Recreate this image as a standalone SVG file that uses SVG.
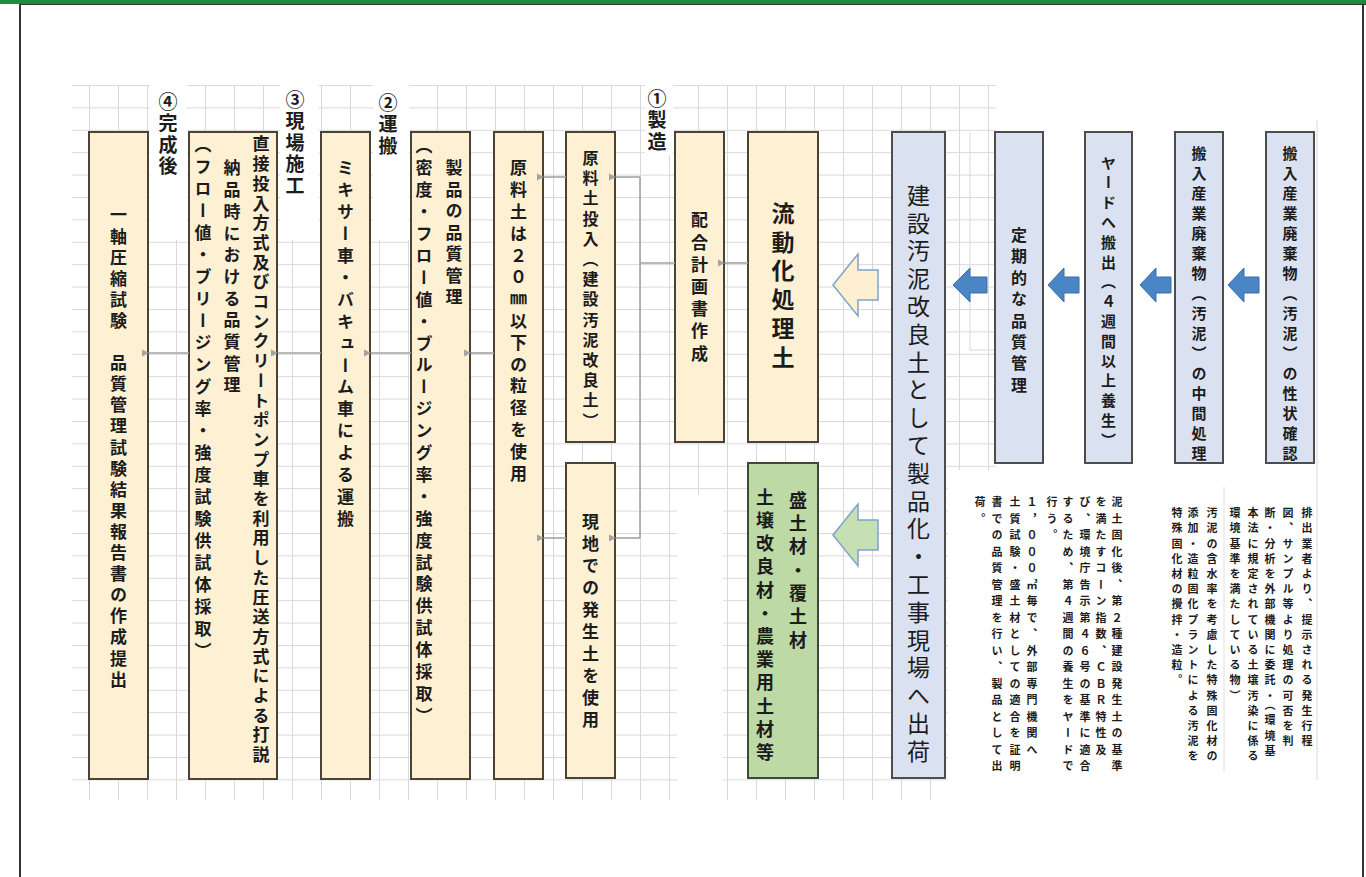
<svg xmlns="http://www.w3.org/2000/svg" width="1366" height="877" viewBox="0 0 1366 877">
<style>
.t{font-family:"Noto Sans CJK JP","Noto Sans CJK SC",sans-serif;writing-mode:vertical-rl;fill:#1c1c1c;font-weight:700;}
.n{font-weight:400;}
.cream{fill:#fdf0d3;stroke:#4a4336;stroke-width:2;}
.blue{fill:#dae2f1;stroke:#4d4d4d;stroke-width:2;}
.green{fill:#bcd9a6;stroke:#3f4a36;stroke-width:2;}
.conn{fill:none;stroke:#a3a3a3;stroke-width:1.6;}
.barrow{fill:#4a85c5;stroke:#3d6fa6;stroke-width:1;}
.s1{font-size:11px;letter-spacing:5.5px;}
.s2{font-size:11px;letter-spacing:4.2px;}
.h{font-size:19px;letter-spacing:2.5px;}
</style>
<defs>
<pattern id="grid" x="2" y="85" width="29" height="22.4" patternUnits="userSpaceOnUse">
<path d="M0.5 0V22.4M0 0.5H29" fill="none" stroke="#d9d9d9" stroke-width="1"/>
</pattern>
<marker id="ah" viewBox="0 0 8 8" refX="1" refY="4" markerWidth="8" markerHeight="8" markerUnits="userSpaceOnUse" orient="auto-start-reverse">
<path d="M8 0.5L1 4L8 7.5Z" fill="#a3a3a3"/>
</marker>
</defs>

<g id="frame">
<rect x="0" y="0" width="1366" height="877" fill="#ffffff"/>
<rect x="0" y="0" width="1366" height="4" fill="#1f8b3f"/>
<line x1="20" y1="4.5" x2="1366" y2="4.5" stroke="#333" stroke-width="1"/>
<line x1="20" y1="4" x2="20" y2="877" stroke="#333" stroke-width="2"/>
<line x1="1363" y1="4" x2="1363" y2="877" stroke="#333" stroke-width="2"/>
</g>

<g id="grid-bg">
<rect x="72" y="85" width="1246" height="715" fill="url(#grid)"/>
<rect x="150" y="85" width="37" height="155" fill="#fff"/>
<rect x="280" y="85" width="39" height="155" fill="#fff"/>
<rect x="373" y="85" width="36" height="155" fill="#fff"/>
<rect x="645" y="85" width="28" height="70" fill="#fff"/>
<rect x="677" y="495" width="46" height="305" fill="#fff"/>
<rect x="996" y="85" width="322" height="715" fill="#fff"/>
<rect x="948" y="470" width="48" height="330" fill="#fff"/>
<line x1="970" y1="132" x2="970" y2="350" stroke="#d9d9d9"/>
<line x1="970" y1="350" x2="995" y2="350" stroke="#d9d9d9"/>
<line x1="1224" y1="487" x2="1224" y2="773" stroke="#e0e0e0"/>
<line x1="1317" y1="120" x2="1317" y2="780" stroke="#d9d9d9"/>
</g>

<g id="headers">
<text class="t h" x="657" y="89">①製造</text>
<text class="t h" x="388" y="93">②運搬</text>
<text class="t h" x="295" y="90">③現場施工</text>
<text class="t h" x="168" y="92">④完成後</text>
</g>

<g id="node-report">
<rect class="cream" x="89" y="132" width="59" height="647"/>
<text class="t" x="118.5" y="206.5" font-size="17" style="letter-spacing:4.1px">一軸圧縮試験　品質管理試験結果報告書の作成提出</text>
</g>
<g id="node-placing">
<rect class="cream" x="189" y="132" width="88" height="647"/>
<text class="t" x="261" y="135.5" font-size="17" style="letter-spacing:2.7px">直接投入方式及びコンクリートポンプ車を利用した圧送方式による打説</text>
<text class="t" x="232" y="159.5" font-size="17" style="letter-spacing:4.7px">納品時における品質管理</text>
<text class="t" x="203" y="136.5" font-size="17" style="letter-spacing:5px">（フロー値・ブリージング率・強度試験供試体採取）</text>
</g>
<g id="node-transport">
<rect class="cream" x="321" y="132" width="49" height="647"/>
<text class="t" x="345.5" y="159.5" font-size="17" style="letter-spacing:4.9px">ミキサー車・バキューム車による運搬</text>
</g>
<g id="node-product-qc">
<rect class="cream" x="411" y="132" width="59" height="647"/>
<text class="t" x="454" y="159.5" font-size="17" style="letter-spacing:4.5px">製品の品質管理</text>
<text class="t" x="424" y="137.5" font-size="17" style="letter-spacing:4.9px">（密度・フロー値・ブルージング率・強度試験供試体採取）</text>
</g>
<g id="node-grain">
<rect class="cream" x="494" y="132" width="49" height="647"/>
<text class="t" x="518.5" y="159.5" font-size="17" style="letter-spacing:4.8px">原料土は２０㎜以下の粒径を使用</text>
</g>
<g id="node-raw-input">
<rect class="cream" x="566" y="132" width="49" height="310"/>
<text class="t" x="590.5" y="150" font-size="16" style="letter-spacing:4.2px">原料土投入（建設汚泥改良土）</text>
</g>
<g id="node-onsite-soil">
<rect class="cream" x="566" y="463" width="49" height="315"/>
<text class="t" x="590.5" y="513.5" font-size="17" style="letter-spacing:5px">現地での発生土を使用</text>
</g>
<g id="node-mix-plan">
<rect class="cream" x="675" y="132" width="49" height="310"/>
<text class="t" x="699.5" y="211.5" font-size="17" style="letter-spacing:5.2px">配合計画書作成</text>
</g>
<g id="node-fluidized">
<rect class="cream" x="748" y="132" width="70" height="310"/>
<text class="t" x="783" y="201.5" font-size="23" style="letter-spacing:5.8px">流動化処理土</text>
</g>
<g id="node-uses">
<rect class="green" x="748" y="463" width="70" height="315"/>
<text class="t" x="798" y="491" font-size="18" style="letter-spacing:5.3px">盛土材・覆土材</text>
<text class="t" x="765" y="488" font-size="18" style="letter-spacing:5.2px">土壌改良材・農業用土材等</text>
</g>
<g id="node-ship">
<rect class="blue" x="892" y="132" width="53" height="646"/>
<text class="t n" x="918.5" y="183.5" font-size="23" style="letter-spacing:4.8px">建設汚泥改良土として製品化・工事現場へ出荷</text>
</g>
<g id="node-periodic-qc">
<rect class="blue" x="995" y="132" width="48" height="331"/>
<text class="t" x="1019" y="227" font-size="16" style="letter-spacing:5.4px">定期的な品質管理</text>
</g>
<g id="node-yard">
<rect class="blue" x="1085" y="132" width="47" height="331"/>
<text class="t" x="1108.5" y="155.5" font-size="15" style="letter-spacing:4.8px">ヤードへ搬出（４週間以上養生）</text>
</g>
<g id="node-intermediate">
<rect class="blue" x="1175" y="132" width="48" height="331"/>
<text class="t" x="1199" y="145.5" font-size="15" style="letter-spacing:5px">搬入産業廃棄物（汚泥）の中間処理</text>
</g>
<g id="node-inspection">
<rect class="blue" x="1266" y="132" width="48" height="331"/>
<text class="t" x="1290" y="145.5" font-size="15" style="letter-spacing:5px">搬入産業廃棄物（汚泥）の性状確認</text>
</g>

<g id="note-yard">
<text class="t s1" x="1117" y="496.5">泥土固化後、第２種建設発生土の基準</text>
<text class="t s1" x="1101" y="496.5">を満たすコーン指数、ＣＢＲ特性及</text>
<text class="t s1" x="1085" y="496.5">び、環境庁告示第４６号の基準に適合</text>
<text class="t s1" x="1068" y="496.5">するため、第４週間の養生をヤードで</text>
<text class="t s1" x="1052" y="496.5">行う。</text>
<text class="t s1" x="1032" y="496.5">１，０００㎥毎で、外部専門機関へ</text>
<text class="t s1" x="1015" y="496.5">土質試験・盛土材としての適合を証明</text>
<text class="t s1" x="997" y="496.5">書での品質管理を行い、製品として出</text>
<text class="t s1" x="980" y="496.5">荷。</text>
</g>
<g id="note-intermediate">
<text class="t s2" x="1212" y="507.5">汚泥の含水率を考慮した特殊固化材の</text>
<text class="t s2" x="1193" y="507.5">添加・造粒固化プラントによる汚泥を</text>
<text class="t s2" x="1177" y="507.5">特殊固化材の攪拌・造粒。</text>
</g>
<g id="note-inspection">
<text class="t s2" x="1307" y="507.5">排出業者より、提示される発生行程</text>
<text class="t s2" x="1288" y="507.5">図、サンプル等より処理の可否を判</text>
<text class="t s2" x="1270" y="507.5">断・分析を外部機関に委託・（環境基</text>
<text class="t s2" x="1253" y="507.5">本法に規定されている土壌汚染に係る</text>
<text class="t s2" x="1235" y="507.5">環境基準を満たしている物）</text>
</g>

<g id="connectors">
<path class="conn" d="M748 263H725" marker-end="url(#ah)"/>
<path class="conn" d="M675 263H640M640 177V538"/>
<path class="conn" d="M640 177H616" marker-end="url(#ah)"/>
<path class="conn" d="M640 538H616" marker-end="url(#ah)"/>
<path class="conn" d="M566 177H544" marker-end="url(#ah)"/>
<path class="conn" d="M566 538H544" marker-end="url(#ah)"/>
<path class="conn" d="M494 353H471" marker-end="url(#ah)"/>
<path class="conn" d="M411 353H371" marker-end="url(#ah)"/>
<path class="conn" d="M321 353H278" marker-end="url(#ah)"/>
<path class="conn" d="M189 353H149" marker-end="url(#ah)"/>
<polygon class="barrow" points="953,285 970,268 970,277 987,277 987,293 970,293 970,302"/>
<polygon class="barrow" points="1048,285 1064,268 1064,277 1079,277 1079,293 1064,293 1064,302"/>
<polygon class="barrow" points="1140,285 1156,268 1156,277 1171,277 1171,293 1156,293 1156,302"/>
<polygon class="barrow" points="1228,285 1244,268 1244,277 1259,277 1259,293 1244,293 1244,302"/>
<polygon points="833,285 858,254 858,270 878,270 878,300 858,300 858,316" fill="#fdefd0" stroke="#7fa3c9" stroke-width="1.5"/>
<polygon points="833,535 858,504 858,520 878,520 878,550 858,550 858,566" fill="#c6e0b4" stroke="#7fa3c9" stroke-width="1.5"/>
</g>
</svg>
